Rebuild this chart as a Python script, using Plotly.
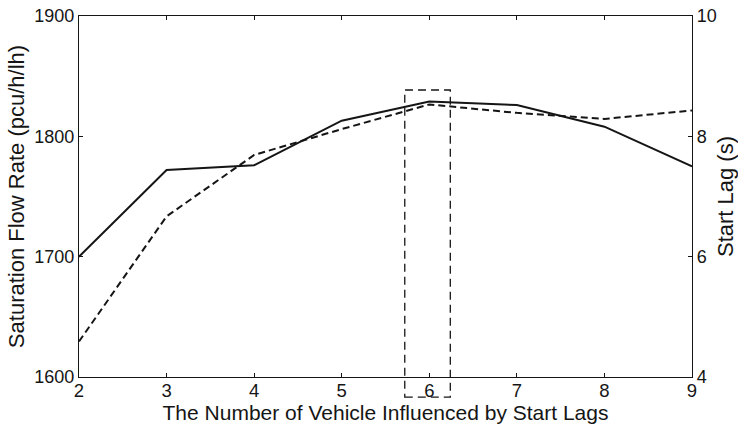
import plotly.graph_objects as go

vehicles = [2, 3, 4, 5, 6, 7, 8, 9]
saturation_flow = [1700, 1772, 1776, 1813, 1829, 1826, 1808, 1775]
start_lag = [4.59, 6.67, 7.69, 8.12, 8.53, 8.39, 8.29, 8.43]

left_ticks = [1600, 1700, 1800, 1900]
right_ticks = [4, 6, 8, 10]
x_ticks = [2, 3, 4, 5, 6, 7, 8, 9]

highlight_x = [5.72, 6.24]

FONT = "Liberation Sans, Arial, sans-serif"
INK = "#151515"

fig = go.Figure()
fig.add_trace(go.Scatter(x=vehicles, y=saturation_flow, mode="lines",
                         line=dict(color=INK, width=2), showlegend=False,
                         yaxis="y"))
fig.add_trace(go.Scatter(x=vehicles, y=start_lag, mode="lines",
                         line=dict(color=INK, width=2, dash="7px,4px"),
                         showlegend=False, yaxis="y2"))

fig.add_shape(type="rect", xref="x", yref="paper",
              x0=highlight_x[0], x1=highlight_x[1], y0=-0.056, y1=0.795,
              line=dict(color=INK, width=1.3, dash="8px,5px"),
              fillcolor="rgba(0,0,0,0)", layer="above")

fig.update_layout(
    width=738, height=428,
    margin=dict(l=79, r=46, t=16, b=51),
    paper_bgcolor="white", plot_bgcolor="white",
    font=dict(family=FONT, size=18, color=INK),
    xaxis=dict(range=[2, 9], tickvals=x_ticks, ticks="inside", ticklen=4,
               showline=True, linecolor=INK, linewidth=1.2, mirror="ticks",
               tickcolor=INK, showgrid=False, zeroline=False,
               automargin=False, tickfont=dict(size=18.5),
               ticklabelstandoff=-3,
               title=dict(text="The Number of Vehicle Influenced by Start Lags",
                          font=dict(size=21), standoff=2)),
    yaxis=dict(range=[1600, 1900], tickvals=left_ticks, ticks="inside",
               ticklen=4, showline=True, linecolor=INK, linewidth=1.2,
               tickcolor=INK, showgrid=False, zeroline=False,
               automargin=False, tickfont=dict(size=18),
               title=dict(text="Saturation Flow Rate (pcu/h/lh)",
                          font=dict(size=22), standoff=3)),
    yaxis2=dict(range=[4, 10], tickvals=right_ticks, ticks="inside",
                ticklen=4, overlaying="y", side="right", showline=True,
                linecolor=INK, linewidth=1.2, tickcolor=INK, showgrid=False,
                zeroline=False, automargin=False, tickfont=dict(size=18),
                title=dict(text="Start Lag (s)", font=dict(size=22),
                           standoff=3)),
)

fig.write_html("out.html")
